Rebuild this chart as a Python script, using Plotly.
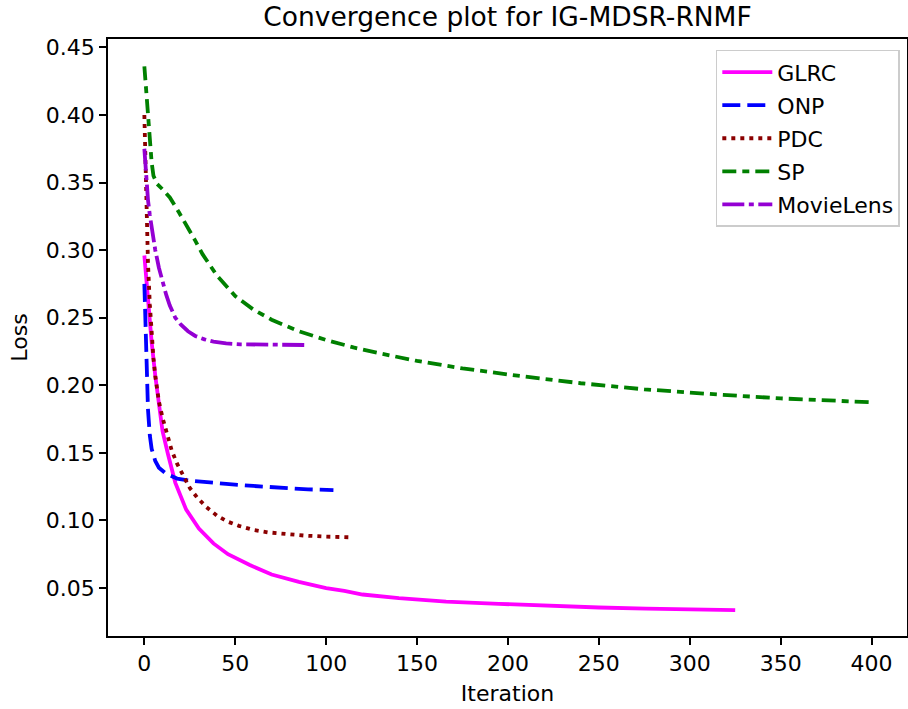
import plotly.graph_objects as go

# ---- data ----
glrc_x = [0, 2, 4, 6, 8, 10, 13, 17, 23, 30, 38, 46, 58, 70, 85, 100, 110, 120, 140, 166, 195, 221, 250, 276, 300, 325]
glrc_y = [0.296, 0.262, 0.232, 0.207, 0.186, 0.166, 0.149, 0.128, 0.108, 0.094, 0.083, 0.075, 0.067, 0.060, 0.0545,
          0.050, 0.0478, 0.0452, 0.0425, 0.0400, 0.0383, 0.0369, 0.0356, 0.0347, 0.0341, 0.0337]

onp_x = [0, 1, 2, 3, 4, 6, 8, 12, 18, 25, 35, 45, 60, 75, 90, 104]
onp_y = [0.275, 0.215, 0.182, 0.163, 0.153, 0.144, 0.139, 0.1345, 0.131, 0.1295, 0.128, 0.127, 0.1255, 0.124, 0.123, 0.1225]

pdc_x = [0, 1, 2, 3, 4, 5, 6, 8, 10, 12, 15, 18, 21, 25, 29, 34, 40, 46, 52, 60, 68, 78, 88, 100, 114]
pdc_y = [0.400, 0.335, 0.290, 0.260, 0.238, 0.220, 0.207, 0.188, 0.176, 0.166, 0.152, 0.142, 0.134, 0.124, 0.117,
         0.110, 0.1035, 0.099, 0.096, 0.093, 0.0912, 0.0898, 0.0888, 0.0880, 0.0875]

sp_x = [0, 1, 2, 3, 4, 5, 7, 10, 14, 19, 24, 28, 32, 40, 50, 60, 70, 85, 100, 115, 130, 150, 175, 200, 240, 275,
        315, 350, 399]
sp_y = [0.436, 0.418, 0.398, 0.380, 0.365, 0.355, 0.349, 0.345, 0.339, 0.328, 0.317, 0.307, 0.297, 0.281, 0.266,
        0.256, 0.2485, 0.2400, 0.2335, 0.228, 0.2235, 0.218, 0.2125, 0.208, 0.2015, 0.197, 0.1932, 0.1903, 0.1875]

ml_x = [0, 1, 2, 3, 4, 6, 8, 10, 12, 14, 17, 20, 24, 28, 33, 38, 45, 53, 62, 72, 80, 88]
ml_y = [0.375, 0.352, 0.337, 0.326, 0.317, 0.300, 0.287, 0.276, 0.267, 0.259, 0.250, 0.245, 0.240, 0.2365, 0.234,
        0.2323, 0.2310, 0.2303, 0.2300, 0.2298, 0.2298, 0.2298]

x_ticks = [0, 50, 100, 150, 200, 250, 300, 350, 400]
y_ticks = [0.05, 0.10, 0.15, 0.20, 0.25, 0.30, 0.35, 0.40, 0.45]

series = [
    ("GLRC", glrc_x, glrc_y, "#ff00ff", "solid"),
    ("ONP", onp_x, onp_y, "#0000ff", "18px,7px"),
    ("PDC", pdc_x, pdc_y, "#8b0000", "4px,5px"),
    ("SP", sp_x, sp_y, "#008000", "14px,6px,7px,6px"),
    ("MovieLens", ml_x, ml_y, "#9400d3", "22px,4.5px,5px,4.5px"),
]

FONT = "DejaVu Sans"

fig = go.Figure()
for name, xs, ys, color, dash in series:
    fig.add_trace(go.Scatter(x=xs, y=ys, mode="lines", name=name, legendgroup=name,
                             line=dict(color=color, width=3.8, dash=dash)))

axis_common = dict(showline=True, linecolor="black", linewidth=1.5, mirror=True,
                   ticks="outside", ticklen=7, tickwidth=1.5, tickcolor="black",
                   showgrid=False, zeroline=False,
                   tickfont=dict(family=FONT, size=22, color="black"))

fig.update_layout(
    width=908, height=709,
    margin=dict(l=108, r=1, t=39, b=73, autoexpand=False),
    paper_bgcolor="white", plot_bgcolor="white",
    font=dict(family=FONT, color="black"),
    title=dict(text="Convergence plot for IG-MDSR-RNMF", x=0.5, xref="paper", xanchor="center",
               y=1 - 17 / 709, yref="container", yanchor="middle",
               font=dict(family=FONT, size=26.5, color="black")),
    xaxis=dict(range=[-20, 419.5], tickvals=x_ticks, ticktext=[str(v) for v in x_ticks],
               title=dict(text="Iteration", font=dict(family=FONT, size=22), standoff=10),
               **axis_common),
    yaxis=dict(range=[0.0145, 0.4562], tickvals=y_ticks, ticktext=[f"{v:.2f}" for v in y_ticks],
               title=dict(text="Loss", font=dict(family=FONT, size=22), standoff=12),
               **axis_common),
    legend=dict(x=0.991, xanchor="right", y=0.982, yanchor="top",
                bgcolor="white", bordercolor="#cccccc", borderwidth=1.5,
                itemwidth=50, tracegroupgap=1.5,
                font=dict(family=FONT, size=22, color="black")),
    showlegend=True,
)

fig.write_html("out.html")
